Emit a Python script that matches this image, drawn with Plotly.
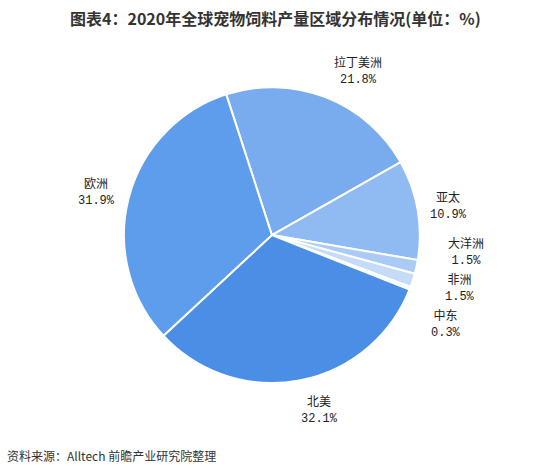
import math
import plotly.graph_objects as go

regions = ["拉丁美洲", "亚太", "大洋洲", "非洲", "中东", "北美", "欧洲"]
shares = [21.8, 10.9, 1.5, 1.5, 0.3, 32.1, 31.9]
colors = ["#79acee", "#8fbbf2", "#aacbf5", "#c5dcf8", "#dde9fb", "#4a8ee6", "#5e9deb"]

title = "图表4：2020年全球宠物饲料产量区域分布情况(单位：%)"
source = "资料来源：Alltech 前瞻产业研究院整理"

W, H = 551, 473
ROT = -18
dom_x = [0.225, 0.762]
dom_y = [0.19, 0.816]
cx = W * (dom_x[0] + dom_x[1]) / 2
cy = H * (1 - (dom_y[0] + dom_y[1]) / 2)
R_LABEL = 177
R_CROWD = 195
GAP = 36

fig = go.Figure(go.Pie(
    labels=regions,
    values=shares,
    sort=False,
    direction="clockwise",
    rotation=ROT,
    marker=dict(colors=colors, line=dict(color="white", width=2)),
    textinfo="none",
    showlegend=False,
    hoverinfo="label+value",
    domain=dict(x=dom_x, y=dom_y),
))

# label positions derived from slice mid-angles (outside labels, overlap avoided)
total = sum(shares)
items = []
cum = 0.0
for name, v in zip(regions, shares):
    mid = math.radians(ROT + (cum + v / 2) / total * 360)
    cum += v
    s, c = math.sin(mid), math.cos(mid)
    hw = max(len(name) * 12, 30) / 2
    x = cx + R_LABEL * s + (1 if s >= 0 else -1) * hw * abs(c)
    y = cy - R_LABEL * c
    items.append(dict(name=name, v=v, x=x, y=y, s=s, crowd=False))

for side in (1, -1):
    grp = sorted([it for it in items if (it["s"] >= 0) == (side == 1)], key=lambda d: d["y"])
    changed = True
    while changed:
        changed = False
        # build clusters of overlapping labels and center each cluster on its mean
        clusters = []
        for it in grp:
            if clusters and it["y"] - clusters[-1][-1]["y"] < GAP - 0.01:
                clusters[-1].append(it)
            else:
                clusters.append([it])
        for cl in clusters:
            if len(cl) > 1:
                m = sum(it["y"] for it in cl) / len(cl)
                for k, it in enumerate(cl):
                    ny = m + (k - (len(cl) - 1) / 2) * GAP
                    if abs(ny - it["y"]) > 0.01:
                        changed = True
                    it["y"] = ny
                    it["crowd"] = True
    for it in grp:
        if it["crowd"]:
            dy = it["y"] - cy
            it["x"] = cx + side * math.sqrt(max(R_CROWD ** 2 - dy ** 2, 0))

annotations = []
for it in items:
    annotations.append(dict(
        text=it["name"] + "<br><span style='font-family:Liberation Mono'>" + f"{it['v']:.1f}%" + "</span>",
        x=it["x"] / W, y=1 - it["y"] / H, xref="paper", yref="paper",
        xanchor="center", yanchor="middle", showarrow=False, align="center",
        font=dict(family="Noto Sans CJK SC", size=12, color="#222"),
    ))

annotations += [
    dict(text="<b>" + title + "</b>", x=0.5, y=1 - 18 / H, xref="paper", yref="paper",
         xanchor="center", yanchor="middle", showarrow=False,
         font=dict(family="Noto Sans CJK SC", size=16, color="#333")),
    dict(text=source, x=5 / W, y=1 - 455 / H, xref="paper", yref="paper",
         xanchor="left", yanchor="middle", showarrow=False,
         font=dict(family="Noto Sans CJK SC", size=12, color="#333")),
]

fig.update_layout(
    width=W, height=H,
    margin=dict(l=0, r=0, t=0, b=0),
    paper_bgcolor="white",
    plot_bgcolor="white",
    annotations=annotations,
)

fig.write_html("out.html")
